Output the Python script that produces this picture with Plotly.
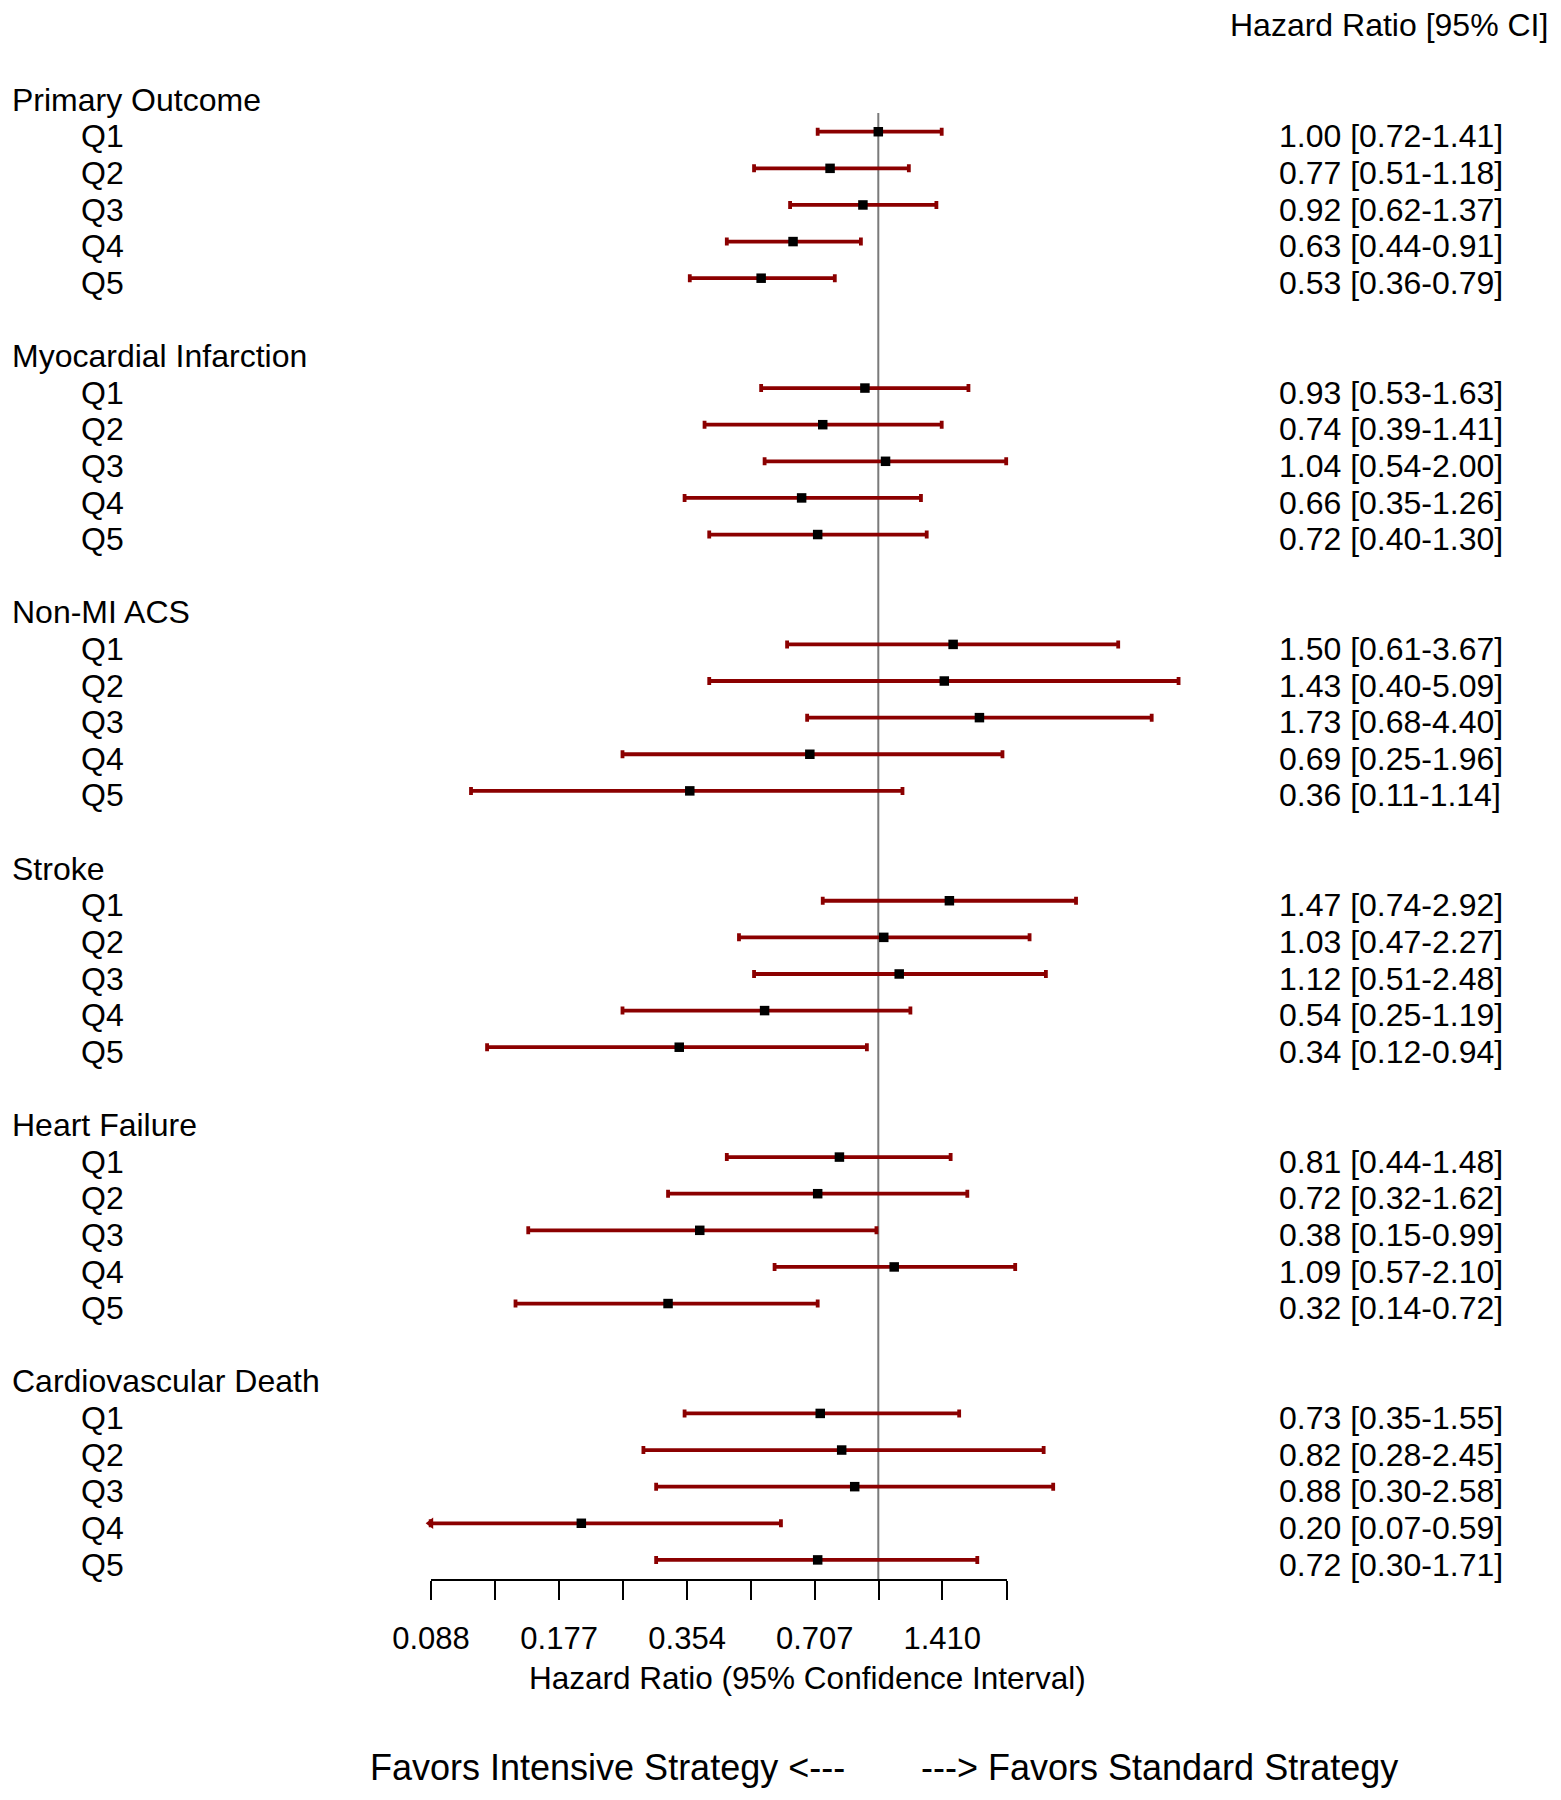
import math
import plotly.graph_objects as go

# ---------------- data ----------------
groups = ["Primary Outcome", "Myocardial Infarction", "Non-MI ACS",
          "Stroke", "Heart Failure", "Cardiovascular Death"]
quintiles = ["Q1", "Q2", "Q3", "Q4", "Q5"]

hr_primary = [1.00, 0.77, 0.92, 0.63, 0.53]
lo_primary = [0.72, 0.51, 0.62, 0.44, 0.36]
hi_primary = [1.41, 1.18, 1.37, 0.91, 0.79]

hr_mi = [0.93, 0.74, 1.04, 0.66, 0.72]
lo_mi = [0.53, 0.39, 0.54, 0.35, 0.40]
hi_mi = [1.63, 1.41, 2.00, 1.26, 1.30]

hr_acs = [1.50, 1.43, 1.73, 0.69, 0.36]
lo_acs = [0.61, 0.40, 0.68, 0.25, 0.11]
hi_acs = [3.67, 5.09, 4.40, 1.96, 1.14]

hr_stroke = [1.47, 1.03, 1.12, 0.54, 0.34]
lo_stroke = [0.74, 0.47, 0.51, 0.25, 0.12]
hi_stroke = [2.92, 2.27, 2.48, 1.19, 0.94]

hr_hf = [0.81, 0.72, 0.38, 1.09, 0.32]
lo_hf = [0.44, 0.32, 0.15, 0.57, 0.14]
hi_hf = [1.48, 1.62, 0.99, 2.10, 0.72]

hr_cvd = [0.73, 0.82, 0.88, 0.20, 0.72]
lo_cvd = [0.35, 0.28, 0.30, 0.07, 0.30]
hi_cvd = [1.55, 2.45, 2.58, 0.59, 1.71]

tick_values = [0.0884, 0.125, 0.177, 0.25, 0.354, 0.5, 0.707, 1.0, 1.41, 2.0]
tick_labels = ["0.088", "", "0.177", "", "0.354", "", "0.707", "", "1.410", ""]

hr_all = [hr_primary, hr_mi, hr_acs, hr_stroke, hr_hf, hr_cvd]
lo_all = [lo_primary, lo_mi, lo_acs, lo_stroke, lo_hf, lo_cvd]
hi_all = [hi_primary, hi_mi, hi_acs, hi_stroke, hi_hf, hi_cvd]

# ---------------- layout geometry ----------------
W, H = 1561, 1800
FONT = "Liberation Sans, Arial, sans-serif"
RED = "#8B0000"
X_ONE = 878.3          # pixel of HR = 1
PX_PER_LOG2 = 127.9
ROW0 = 95.1            # pixel of row 0
ROW_H = 36.62
AXIS_PX = 1579.3
TXT_DX = -3            # compensate annotation padding
FS = 32                # label font size

def px_to_log10(px):
    return (px - X_ONE) / PX_PER_LOG2 * math.log10(2)

def px_to_row(py):
    return (py - ROW0) / ROW_H

def xp(px):
    return (px + TXT_DX) / W

axis_min = tick_values[0]
axis_max = tick_values[-1]

fig = go.Figure()

# reference line at HR = 1
fig.add_trace(go.Scatter(x=[1, 1], y=[px_to_row(113), px_to_row(AXIS_PX)],
                         mode="lines", line=dict(color="#7a7a7a", width=2),
                         hoverinfo="skip", showlegend=False))

rows, xs, plus, minus = [], [], [], []
arrow_x, arrow_y = [], []
annotations = []
for g, name in enumerate(groups):
    head = 7 * g
    annotations.append(dict(x=xp(13), y=head, xref="paper", yref="y", text=name,
                            xanchor="left", yanchor="middle", showarrow=False,
                            yshift=-4.6, font=dict(size=FS, family=FONT, color="black")))
    for i, q in enumerate(quintiles):
        r = head + 1 + i
        hr, lo, hi = hr_all[g][i], lo_all[g][i], hi_all[g][i]
        lo_c = max(lo, axis_min)
        if lo < axis_min:
            arrow_x.append(axis_min)
            arrow_y.append(r)
        rows.append(r)
        xs.append(hr)
        plus.append(hi - hr)
        minus.append(hr - lo_c)
        annotations.append(dict(x=xp(81.7), y=r, xref="paper", yref="y", text=q,
                                xanchor="left", yanchor="middle", showarrow=False,
                                yshift=-4.6, font=dict(size=FS, family=FONT, color="black")))
        annotations.append(dict(x=xp(1280), y=r, xref="paper", yref="y",
                                text=f"{hr:.2f} [{lo:.2f}-{hi:.2f}]",
                                xanchor="left", yanchor="middle", showarrow=False,
                                yshift=-4.6, font=dict(size=FS, family=FONT, color="black")))

fig.add_trace(go.Scatter(
    x=xs, y=rows, mode="markers",
    marker=dict(symbol="square", size=9.5, color="black"),
    error_x=dict(type="data", symmetric=False, array=plus, arrayminus=minus,
                 color=RED, thickness=3.8, width=4),
    hoverinfo="skip", showlegend=False))

if arrow_x:
    fig.add_trace(go.Scatter(x=arrow_x, y=arrow_y, mode="markers",
                             marker=dict(symbol="triangle-left", size=10, color=RED),
                             hoverinfo="skip", showlegend=False))

# invisible trace to create the axis subplot
fig.add_trace(go.Scatter(x=[1], y=[0], xaxis="x2", yaxis="y2", mode="markers",
                         marker=dict(opacity=0), hoverinfo="skip", showlegend=False))

# header, axis title and footer
annotations.append(dict(x=xp(1231), y=1 - 25 / H, xref="paper", yref="paper",
                        text="Hazard Ratio [95% CI]", xanchor="left", yanchor="middle",
                        showarrow=False, font=dict(size=FS, family=FONT, color="black")))
annotations.append(dict(x=xp(530), y=1 - 1678 / H, xref="paper", yref="paper",
                        text="Hazard Ratio (95% Confidence Interval)", xanchor="left",
                        yanchor="middle", showarrow=False,
                        font=dict(size=31.5, family=FONT, color="black")))
annotations.append(dict(x=xp(371), y=1 - 1767 / H, xref="paper", yref="paper",
                        text="Favors Intensive Strategy &lt;---", xanchor="left",
                        yanchor="middle", showarrow=False,
                        font=dict(size=36, family=FONT, color="black")))
annotations.append(dict(x=xp(922), y=1 - 1767 / H, xref="paper", yref="paper",
                        text="---&gt; Favors Standard Strategy", xanchor="left",
                        yanchor="middle", showarrow=False,
                        font=dict(size=36, family=FONT, color="black")))

axis_bottom = 1 - AXIS_PX / H
fig.update_layout(
    width=W, height=H,
    margin=dict(l=0, r=0, t=0, b=0, pad=0, autoexpand=False),
    paper_bgcolor="white", plot_bgcolor="rgba(0,0,0,0)",
    showlegend=False,
    xaxis=dict(type="log", domain=[0, 1], automargin=False,
               range=[px_to_log10(0), px_to_log10(W)], visible=False),
    yaxis=dict(domain=[0, 1], automargin=False,
               range=[px_to_row(H), px_to_row(0)], visible=False),
    xaxis2=dict(type="log", domain=[431 / W, 1006.7 / W], anchor="y2",
                automargin=False,
                range=[math.log10(axis_min), math.log10(axis_max)],
                showline=True, linecolor="black", linewidth=2,
                ticks="outside", ticklen=19, tickwidth=2, tickcolor="black",
                tickvals=tick_values, ticktext=tick_labels,
                ticklabelstandoff=11,
                tickfont=dict(size=31, family=FONT, color="black"),
                showgrid=False, zeroline=False),
    yaxis2=dict(domain=[axis_bottom, axis_bottom + 0.01], anchor="x2",
                automargin=False, visible=False, range=[0, 1]),
    annotations=annotations,
)

fig.write_html("out.html",
               config={"displayModeBar": False},
               post_script="document.body.style.margin='0';"
                           "document.body.style.overflow='hidden';")
